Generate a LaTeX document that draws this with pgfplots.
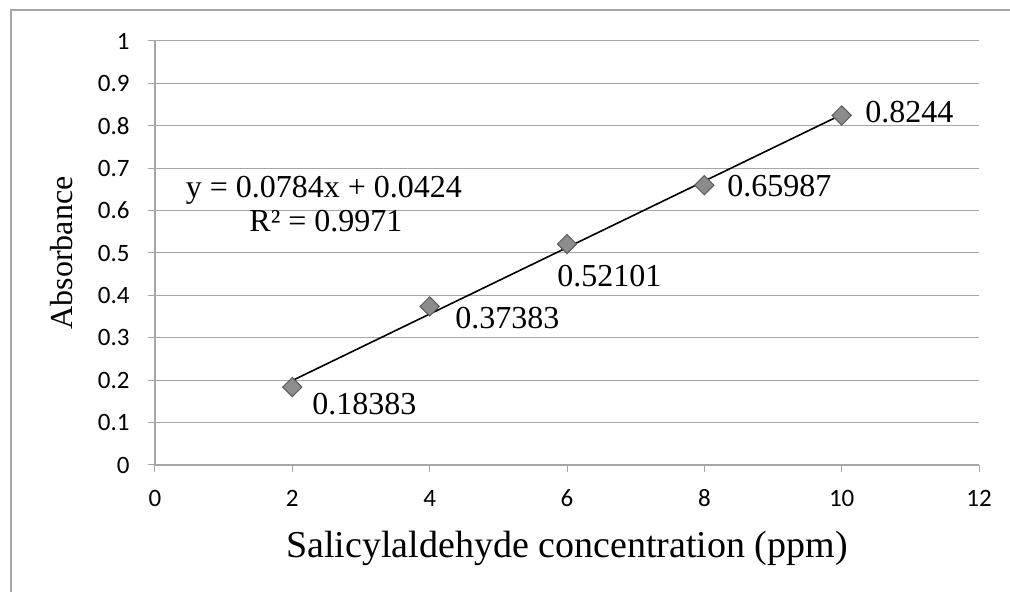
\documentclass[border=0pt]{standalone}
\usepackage{pgfplots}
\pgfplotsset{compat=1.18}
\usepackage{fontspec}
\setmainfont{Liberation Serif}
\newfontfamily\carlito{Carlito}
\newcommand\tl[1]{\fontsize{12.5}{15}\selectfont\carlito #1}
\begin{document}
\begin{tikzpicture}
\useasboundingbox (-77.5pt,-63.5pt) rectangle (427.5pt,232.5pt);
\draw[gray!70, line width=0.6pt] (-72pt,-70pt) -- (-72pt,227.5pt) -- (430pt,227.5pt);
\begin{axis}[
  scale only axis, width=412pt, height=212pt,
  xmin=0, xmax=12, ymin=0, ymax=1,
  xtick={0,2,4,6,8,10,12},
  xticklabels={\tl{0},\tl{2},\tl{4},\tl{6},\tl{8},\tl{10},\tl{12}},
  ytick={0,0.1,0.2,0.3,0.4,0.5,0.6,0.7,0.8,0.9,1},
  yticklabels={\tl{0},\tl{0.1},\tl{0.2},\tl{0.3},\tl{0.4},\tl{0.5},\tl{0.6},\tl{0.7},\tl{0.8},\tl{0.9},\tl{1}},
  axis x line=bottom, axis y line=left,
  axis line style={-, gray!70, line width=0.6pt},
  ymajorgrids, major grid style={gray!70, line width=0.5pt},
  tick align=outside, major tick length=3.5pt,
  tick style={gray!70, line width=0.5pt},
  xticklabel style={text height=8pt, text depth=0pt, inner sep=0pt, yshift=-9pt},
  yticklabel style={inner sep=0pt, xshift=-9pt},
  xlabel={Salicylaldehyde concentration (ppm)},
  ylabel={Absorbance},
  xlabel style={font=\fontsize{19}{22}\selectfont, at={(axis description cs:0.5,-0.196)}, anchor=center},
  ylabel style={font=\fontsize{16}{19}\selectfont, at={(axis description cs:-0.113,0.5)}, anchor=center, rotate=0},
  clip=false,
]
\addplot[only marks, mark=square*, mark size=3.4pt,
  mark options={rotate=45, fill=gray!90, draw=black!65, line width=0.5pt}]
  coordinates {(2,0.18383) (4,0.37383) (6,0.52101) (8,0.65987) (10,0.8244)};
\addplot[black, line width=0.8pt] coordinates {(2,0.1992) (10,0.8264)};
\begin{scope}[every node/.style={font=\fontsize{16}{19}\selectfont, inner sep=0pt, anchor=west}]
\node at (axis cs:2.286,0.1439) {0.18383};
\node at (axis cs:4.369,0.3467) {0.37383};
\node at (axis cs:5.854,0.4458) {0.52101};
\node at (axis cs:8.33,0.658) {0.65987};
\node at (axis cs:10.34,0.8325) {0.8244};
\end{scope}
\node[font=\fontsize{16}{19}\selectfont, inner sep=0pt] at (axis cs:2.46,0.6486) {y = 0.0784x + 0.0424};
\node[font=\fontsize{16}{19}\selectfont, inner sep=0pt] at (axis cs:2.49,0.575) {R² = 0.9971};
\end{axis}
\end{tikzpicture}
\end{document}
